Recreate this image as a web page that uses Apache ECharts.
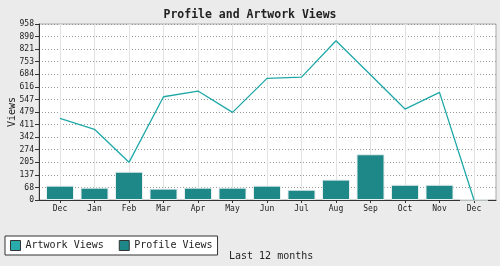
<!DOCTYPE html>
<html><head><meta charset="utf-8">
<script src="https://cdn.jsdelivr.net/npm/echarts@6/dist/echarts.min.js"></script>
<style>html,body{margin:0;padding:0;background:#ebebeb}#c{width:500px;height:266px}</style>
</head><body><div id="c"></div>
<script>
const months = ['Dec','Jan','Feb','Mar','Apr','May','Jun','Jul','Aug','Sep','Oct','Nov','Dec'];
const artworkViews = [444, 385, 205, 562, 593, 477, 662, 669, 867, 682, 495, 586, 0];
const profileViews = [78, 67, 154, 62, 67, 67, 78, 56, 111, 249, 83, 83, 0];
const yMax = 958;
const yStep = 958 / 14;

const FONT = 'DejaVu Sans Mono';
const chart = echarts.init(document.getElementById('c'), null, {renderer: 'canvas'});
chart.setOption({
  backgroundColor: '#ebebeb',
  animation: false,
  textStyle: {fontFamily: FONT, color: '#222'},
  title: [
    {text: 'Profile and Artwork Views', left: 'center', top: 4,
     textStyle: {fontFamily: FONT, fontSize: 11.5, fontWeight: 'bold', color: '#222'}},
    {text: 'Last 12 months', left: 224, top: 246,
     textStyle: {fontFamily: FONT, fontSize: 10, fontWeight: 'normal', color: '#222'}}
  ],
  legend: {
    left: 5, top: 236, padding: [4, 5, 4, 5], itemGap: 15,
    itemWidth: 10, itemHeight: 10, icon: 'rect',
    backgroundColor: '#fff', borderColor: '#333', borderWidth: 1, borderRadius: 0,
    itemStyle: {borderColor: '#333', borderWidth: 1},
    textStyle: {fontFamily: FONT, fontSize: 10, color: '#222'},
    data: ['Artwork Views', 'Profile Views']
  },
  grid: [
    {left: 39, right: 4, top: 24, bottom: 66, show: true, backgroundColor: '#fff', borderColor: '#aaa', borderWidth: 1,
     containLabel: false, outerBoundsMode: 'none'},
    {left: 60, right: 26, top: 24, bottom: 66, containLabel: false, outerBoundsMode: 'none'}
  ],
  xAxis: [
    {gridIndex: 0, type: 'value', min: 0, max: 1, axisLine: {show: true, lineStyle: {color: '#333'}},
     axisTick: {show: false}, axisLabel: {show: false}, splitLine: {show: false}},
    {gridIndex: 1, type: 'category', data: months, boundaryGap: false,
     axisLine: {show: false}, axisTick: {show: true, length: 3, lineStyle: {color: '#333'}},
     axisLabel: {fontFamily: FONT, fontSize: 8, color: '#222', margin: 5},
     splitLine: {show: true, lineStyle: {color: '#e2e2e2', width: 1}}}
  ],
  yAxis: [
    {gridIndex: 0, type: 'value', min: 0, max: yMax, interval: yStep,
     name: 'Views', nameLocation: 'middle', nameGap: 22, nameMoveOverlap: false,
     nameTextStyle: {fontFamily: FONT, fontSize: 10, color: '#222'},
     axisLine: {show: true, lineStyle: {color: '#333'}},
     axisTick: {show: true, length: 4, lineStyle: {color: '#333'}},
     axisLabel: {fontFamily: FONT, fontSize: 8, color: '#222', margin: 5, formatter: v => Math.round(v)},
     splitLine: {show: true, lineStyle: {color: '#999', type: [1, 2], width: 1}}},
    {gridIndex: 1, type: 'value', min: 0, max: yMax, show: false, splitLine: {show: false}}
  ],
  series: [
    {name: 'Artwork Views', type: 'line', xAxisIndex: 1, yAxisIndex: 1, data: artworkViews,
     showSymbol: false, symbol: 'none', lineStyle: {color: '#1fa8a8', width: 1.3},
     itemStyle: {color: '#2aabab'}, z: 3},
    {name: 'Profile Views', type: 'bar', xAxisIndex: 1, yAxisIndex: 1, data: profileViews,
     barWidth: 28, clip: false, itemStyle: {color: '#1e8888', borderColor: '#e6eeee', borderWidth: 1}, z: 2}
  ]
});
</script></body></html>
